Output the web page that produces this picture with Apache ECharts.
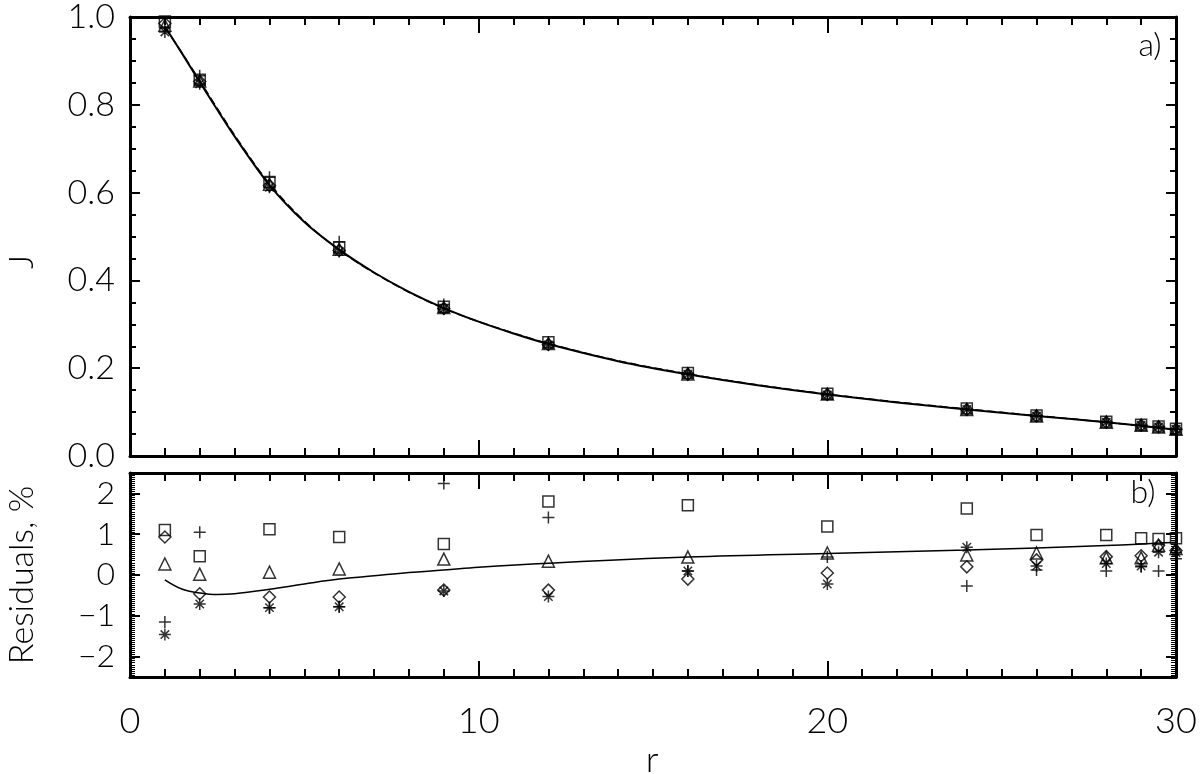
<!DOCTYPE html>
<html>
<head>
<meta charset="utf-8">
<title>J(r) and residuals</title>
<script src="https://cdn.jsdelivr.net/npm/echarts@6/dist/echarts.min.js"></script>
<style>
  html, body { margin: 0; padding: 0; background: #fff; }
  #chart { width: 1200px; height: 774px; }
</style>
</head>
<body>
<div id="chart"></div>
<script>
// radii where the methods were sampled
var r = [1, 2, 4, 6, 9, 12, 16, 20, 24, 26, 28, 29, 29.5, 30];

// panel a): J for each method (read off the plot)
var jPlus     = [0.975, 0.866, 0.635, 0.488, 0.345, 0.259, 0.188, 0.141, 0.106, 0.091, 0.077, 0.070, 0.066, 0.061];
var jAsterisk = [0.966, 0.848, 0.612, 0.466, 0.335, 0.253, 0.186, 0.139, 0.106, 0.091, 0.077, 0.070, 0.066, 0.061];
var jDiamond  = [0.985, 0.853, 0.616, 0.468, 0.336, 0.254, 0.186, 0.140, 0.106, 0.091, 0.077, 0.070, 0.066, 0.061];
var jTriangle = [0.981, 0.854, 0.619, 0.471, 0.338, 0.256, 0.187, 0.141, 0.106, 0.091, 0.077, 0.070, 0.066, 0.061];
var jSquare   = [0.990, 0.857, 0.624, 0.475, 0.340, 0.259, 0.189, 0.142, 0.108, 0.092, 0.078, 0.071, 0.067, 0.062];
// solid and dashed model curves
var jCurveR   = [1, 1.5, 2, 3, 4, 5, 6, 7, 8, 9, 10, 11, 12, 14, 16, 18, 20, 22, 24, 26, 28, 30];
var jModel    = [0.978, 0.916, 0.852, 0.728, 0.617, 0.533, 0.470, 0.418, 0.374, 0.337, 0.306, 0.279, 0.255, 0.216, 0.186, 0.161, 0.140, 0.122, 0.106, 0.091, 0.077, 0.060];
var jFit      = [0.977, 0.917, 0.855, 0.731, 0.620, 0.535, 0.469, 0.417, 0.373, 0.336, 0.306, 0.280, 0.256, 0.217, 0.187, 0.162, 0.141, 0.123, 0.107, 0.092, 0.077, 0.060];

// panel b): residuals in %
var resPlus     = [-1.15, 1.05, -0.80, -0.78, 2.24, 1.41, 0.10, 0.44, -0.27, 0.12, 0.10, 0.20, 0.10, 0.40];
var resAsterisk = [-1.46, -0.71, -0.80, -0.78, -0.39, -0.53, 0.10, -0.22, 0.68, 0.22, 0.28, 0.22, 0.56, 0.55];
var resDiamond  = [0.93, -0.46, -0.54, -0.54, -0.37, -0.37, -0.10, 0.05, 0.20, 0.37, 0.45, 0.47, 0.72, 0.60];
var resTriangle = [0.27, 0.02, 0.07, 0.15, 0.39, 0.34, 0.44, 0.54, 0.49, 0.54, 0.42, 0.42, 0.73, 0.65];
var resSquare   = [1.10, 0.46, 1.12, 0.93, 0.76, 1.80, 1.71, 1.19, 1.63, 0.98, 0.98, 0.90, 0.88, 0.90];
var resCurveR   = [1, 1.5, 2, 2.5, 3, 4, 5, 6, 7, 8, 9, 10, 12, 16, 20, 24, 28, 30];
var resCurve    = [-0.12, -0.35, -0.44, -0.48, -0.46, -0.35, -0.22, -0.10, -0.02, 0.06, 0.12, 0.19, 0.29, 0.44, 0.53, 0.61, 0.72, 0.80];

// tick labels
var xTicks = [0, 10, 20, 30];
var resTicks = [-2, -1, 0, 1, 2];

var FONT = "Lato, 'Liberation Sans', sans-serif";

function pairs(xs, ys) {
  return xs.map(function (x, i) { return [x, ys[i]]; });
}

// marker shapes (outline only)
var PLUS = 'path://M0,5L10,5M5,0L5,10';
var STAR = 'path://M0,5L10,5M5,0L5,10M1.5,1.5L8.5,8.5M1.5,8.5L8.5,1.5';

function markers(name, data, gridIdx, symbol, size) {
  return {
    name: name,
    type: 'scatter',
    xAxisIndex: gridIdx === 0 ? 0 : 2,
    yAxisIndex: gridIdx === 0 ? 0 : 2,
    data: data,
    symbol: symbol,
    symbolSize: size,
    itemStyle: { color: 'rgba(0,0,0,0)', borderColor: '#000', borderWidth: 1.5 },
    z: 3
  };
}

// one axis of the boxed frame
function xAx(gridIdx, pos, labels) {
  return {
    type: 'value', gridIndex: gridIdx, position: pos,
    min: 0, max: 30, interval: 10,
    axisLine: { show: true, onZero: false, lineStyle: { color: '#000', width: 3 } },
    axisTick: { show: true, inside: true, length: 16, lineStyle: { color: '#000', width: 2 } },
    minorTick: { show: true, splitNumber: 10, length: 8, lineStyle: { color: '#000', width: 2 } },
    axisLabel: {
      show: labels, margin: 26, color: '#000', fontSize: 36, fontFamily: FONT, fontWeight: 300,
      customValues: xTicks
    },
    splitLine: { show: false }
  };
}

// y axis of the boxed frame; custom = tick values when they do not start at min
function yAx(gridIdx, pos, min, max, opts) {
  var ax = {
    type: 'value', gridIndex: gridIdx, position: pos, min: min, max: max,
    axisLine: { show: opts.line, onZero: false, lineStyle: { color: '#000', width: 3 } },
    axisTick: { show: true, inside: true, length: opts.tick, lineStyle: { color: '#000', width: opts.tickW || 2 } },
    axisLabel: { show: false },
    splitLine: { show: false }
  };
  if (opts.interval) ax.interval = opts.interval;
  if (opts.custom) ax.axisTick.customValues = opts.custom;
  if (opts.minor) ax.minorTick = { show: true, splitNumber: opts.minor, length: 6, lineStyle: { color: '#000', width: 2 } };
  return ax;
}

var leftTop = yAx(0, 'left', 0, 1, { line: true, tick: 10, interval: 0.2, minor: 4 });
leftTop.axisLabel = {
  margin: 15, color: '#000', fontSize: 34, fontFamily: FONT, fontWeight: 300,
  formatter: function (v) { return v.toFixed(1); }, padding: [6, 0, 0, 0]
};

var leftBottom = yAx(1, 'left', -2.5, 2.5, { line: true, tick: 10, custom: resTicks });
leftBottom.axisLabel = {
  margin: 15, color: '#000', fontSize: 32, fontFamily: FONT, fontWeight: 300,
  customValues: resTicks,
  formatter: function (v) { return v < 0 ? '\u2212' + Math.abs(v) : String(v); }
};

// hidden x axis for the overlay grid that carries the dense residual ticks
var xHidden = {
  type: 'value', gridIndex: 2, min: 0, max: 30, show: false
};

var chart = echarts.init(document.getElementById('chart'), null, { renderer: 'canvas' });

chart.setOption({
  animation: false,
  backgroundColor: '#fff',
  grid: [
    { left: 130, top: 7, width: 1046, height: 449 },
    { left: 130, top: 473, width: 1046, height: 204 },
    { left: 130, top: 473, width: 1046, height: 204 }
  ],
  xAxis: [
    xAx(0, 'bottom', false),
    xAx(0, 'top', false),
    xAx(1, 'bottom', true),
    xAx(1, 'top', false),
    xHidden
  ],
  yAxis: [
    leftTop,
    yAx(0, 'right', 0, 1, { line: true, tick: 10, interval: 0.2, minor: 4 }),
    leftBottom,
    yAx(1, 'right', -2.5, 2.5, { line: true, tick: 10, custom: resTicks }),
    yAx(2, 'left', -2.5, 2.5, { line: false, tick: 5, tickW: 1, interval: 0.05 }),
    yAx(2, 'right', -2.5, 2.5, { line: false, tick: 5, tickW: 1, interval: 0.05 })
  ],
  graphic: [
    { type: 'text', x: 1150, y: 46, style: { text: 'a)', fontSize: 32, fontFamily: FONT, fontWeight: 300, fill: '#000', align: 'center', verticalAlign: 'middle' } },
    { type: 'text', x: 1143, y: 493, style: { text: 'b)', fontSize: 32, fontFamily: FONT, fontWeight: 300, fill: '#000', align: 'center', verticalAlign: 'middle' } },
    { type: 'text', x: 22, y: 262, rotation: Math.PI / 2, style: { text: 'J', fontSize: 34, fontFamily: FONT, fontWeight: 300, fill: '#000', align: 'center', verticalAlign: 'middle' } },
    { type: 'text', x: 22, y: 575, rotation: Math.PI / 2, style: { text: 'Residuals, %', fontSize: 34, fontFamily: FONT, fontWeight: 300, fill: '#000', align: 'center', verticalAlign: 'middle' } },
    { type: 'text', x: 652, y: 760, style: { text: 'r', fontSize: 36, fontFamily: FONT, fontWeight: 300, fill: '#000', align: 'center', verticalAlign: 'middle' } }
  ],
  series: [
    // panel a)
    {
      type: 'line', xAxisIndex: 0, yAxisIndex: 0, data: pairs(jCurveR, jModel),
      smooth: 0.3, showSymbol: false,
      lineStyle: { color: '#000', width: 2 }, z: 2
    },
    {
      type: 'line', xAxisIndex: 0, yAxisIndex: 0, data: pairs(jCurveR, jFit),
      smooth: 0.3, showSymbol: false,
      lineStyle: { color: '#000', width: 1.5, type: [8, 4] }, z: 2
    },
    markers('plus', pairs(r, jPlus), 0, PLUS, 12),
    markers('asterisk', pairs(r, jAsterisk), 0, STAR, 12),
    markers('diamond', pairs(r, jDiamond), 0, 'diamond', 12),
    markers('triangle', pairs(r, jTriangle), 0, 'triangle', 12),
    markers('square', pairs(r, jSquare), 0, 'rect', 11),
    // panel b)
    {
      type: 'line', xAxisIndex: 2, yAxisIndex: 2, data: pairs(resCurveR, resCurve),
      smooth: 0.4, showSymbol: false,
      lineStyle: { color: '#000', width: 1.5 }, z: 2
    },
    markers('plus', pairs(r, resPlus), 1, PLUS, 12),
    markers('asterisk', pairs(r, resAsterisk), 1, STAR, 12),
    markers('diamond', pairs(r, resDiamond), 1, 'diamond', 12),
    markers('triangle', pairs(r, resTriangle), 1, 'triangle', 12),
    markers('square', pairs(r, resSquare), 1, 'rect', 11)
  ]
});
</script>
</body>
</html>
